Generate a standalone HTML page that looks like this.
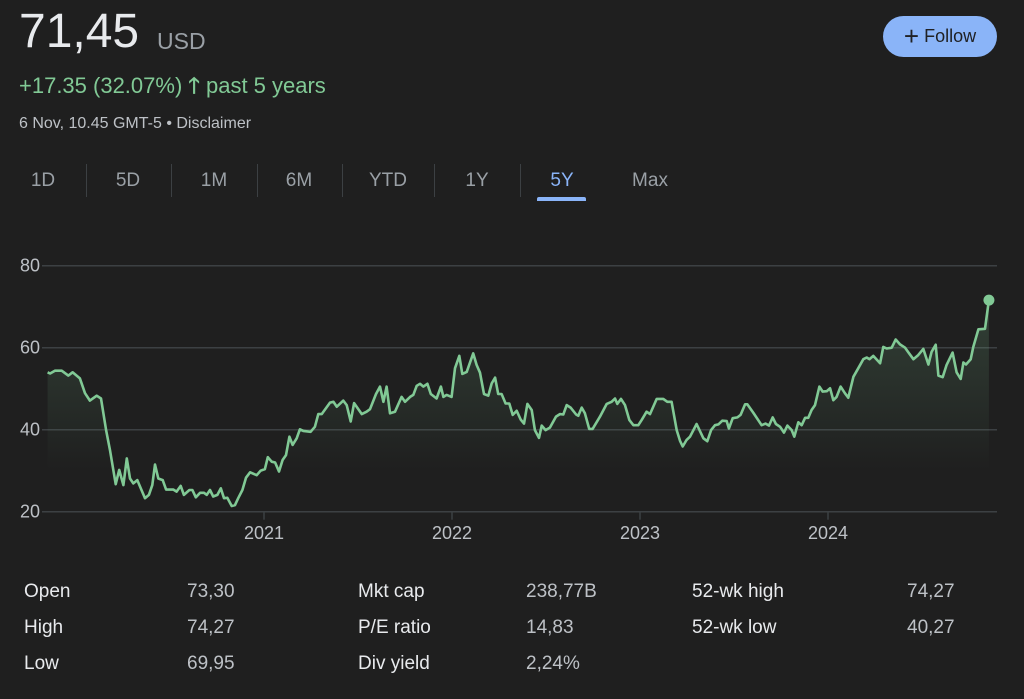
<!DOCTYPE html>
<html><head><meta charset="utf-8"><style>
body{margin:0;width:1024px;height:699px;background:#1f1f1f;font-family:"Liberation Sans",Arial,sans-serif;position:relative;overflow:hidden;color:#e8eaed}
.a{position:absolute;white-space:nowrap}
.tab{position:absolute;top:170px;font-size:19px;color:#9aa0a6;transform:translateX(-50%)}
.sep{position:absolute;top:164px;width:1px;height:33px;background:#3c4043}
.st{position:absolute;font-size:19px;color:#e8eaed}
.sv{position:absolute;font-size:19px;color:#bdc1c6}
</style></head><body>
<div class="a" style="left:19px;top:4px;font-size:48px;color:#e8eaed">71,45</div>
<div class="a" style="left:157px;top:28px;font-size:23px;color:#9aa0a6">USD</div>
<div class="a" style="left:19px;top:69px;font-size:22px;color:#81c995">+17.35 (32.07%) <span style="font-weight:bold">🡑</span> past 5 years</div>
<div class="a" style="left:19px;top:115px;font-size:16px;color:#bdc1c6">6 Nov, 10.45 GMT-5 • Disclaimer</div>
<div class="a" style="left:883px;top:16px;width:114px;height:41px;border-radius:21px;background:#8ab4f8;color:#202124;font-size:18px;line-height:41px;text-align:center"><span style="font-size:26px;vertical-align:-3px">+</span> Follow</div>

<div class="tab" style="left:43px">1D</div>
<div class="tab" style="left:128px">5D</div>
<div class="tab" style="left:214px">1M</div>
<div class="tab" style="left:299px">6M</div>
<div class="tab" style="left:388px">YTD</div>
<div class="tab" style="left:477px">1Y</div>
<div class="tab" style="left:562px;color:#8ab4f8">5Y</div>
<div class="tab" style="left:650px">Max</div>
<div class="sep" style="left:86px"></div>
<div class="sep" style="left:171px"></div>
<div class="sep" style="left:257px"></div>
<div class="sep" style="left:342px"></div>
<div class="sep" style="left:434px"></div>
<div class="sep" style="left:520px"></div>
<div class="a" style="left:537px;top:197px;width:49px;height:4px;border-radius:2px 2px 0 0;background:#8ab4f8"></div>

<svg id="chart" width="1024" height="560" style="position:absolute;left:0;top:0">
<defs><linearGradient id="g" gradientUnits="userSpaceOnUse" x1="0" y1="280" x2="0" y2="470"><stop offset="0" stop-color="#81c995" stop-opacity="0.22"/><stop offset="1" stop-color="#81c995" stop-opacity="0"/></linearGradient></defs>
<g id="grid"></g><path id="area" fill="url(#g)"/><path id="line" fill="none" stroke="#81c995" stroke-width="2.6" stroke-linejoin="round"/><g id="ticks"></g>
</svg>

<div class="st" style="left:24px;top:581px">Open</div>
<div class="sv" style="left:187px;top:581px">73,30</div>
<div class="st" style="left:24px;top:617px">High</div>
<div class="sv" style="left:187px;top:617px">74,27</div>
<div class="st" style="left:24px;top:653px">Low</div>
<div class="sv" style="left:187px;top:653px">69,95</div>
<div class="st" style="left:358px;top:581px">Mkt cap</div>
<div class="sv" style="left:526px;top:581px">238,77B</div>
<div class="st" style="left:358px;top:617px">P/E ratio</div>
<div class="sv" style="left:526px;top:617px">14,83</div>
<div class="st" style="left:358px;top:653px">Div yield</div>
<div class="sv" style="left:526px;top:653px">2,24%</div>
<div class="st" style="left:692px;top:581px">52-wk high</div>
<div class="sv" style="left:907px;top:581px">74,27</div>
<div class="st" style="left:692px;top:617px">52-wk low</div>
<div class="sv" style="left:907px;top:617px">40,27</div>

<script>
const yTicks=[20,40,60,80];
const xTickYears=[2021,2022,2023,2024];
const dates=[2019.849,2019.862,2019.888,2019.924,2019.959,2019.982,2020.021,2020.048,2020.074,2020.110,2020.133,2020.160,2020.181,2020.211,2020.230,2020.252,2020.270,2020.287,2020.305,2020.326,2020.367,2020.388,2020.406,2020.420,2020.438,2020.461,2020.479,2020.518,2020.535,2020.557,2020.574,2020.603,2020.619,2020.637,2020.660,2020.681,2020.695,2020.713,2020.730,2020.752,2020.770,2020.787,2020.805,2020.828,2020.846,2020.863,2020.885,2020.904,2020.926,2020.961,2020.982,2021.005,2021.020,2021.041,2021.059,2021.080,2021.099,2021.117,2021.135,2021.152,2021.174,2021.191,2021.209,2021.248,2021.271,2021.289,2021.307,2021.351,2021.369,2021.387,2021.422,2021.440,2021.461,2021.479,2021.520,2021.546,2021.564,2021.596,2021.617,2021.635,2021.652,2021.670,2021.697,2021.732,2021.750,2021.777,2021.794,2021.812,2021.830,2021.848,2021.869,2021.887,2021.918,2021.941,2021.954,2021.972,2021.998,2022.016,2022.039,2022.055,2022.078,2022.113,2022.131,2022.149,2022.170,2022.193,2022.211,2022.229,2022.246,2022.264,2022.285,2022.305,2022.323,2022.344,
2022.365,2022.383,2022.401,2022.424,2022.441,2022.463,2022.477,2022.498,2022.521,2022.553,2022.574,2022.592,2022.610,2022.631,2022.660,2022.672,2022.690,2022.707,2022.730,2022.748,2022.787,2022.823,2022.849,2022.867,2022.879,2022.899,2022.920,2022.943,2022.965,2022.991,2023.009,2023.035,2023.053,2023.089,2023.124,2023.145,2023.168,2023.195,2023.213,2023.227,2023.248,2023.266,2023.301,2023.337,2023.358,2023.378,2023.399,2023.417,2023.438,2023.461,2023.473,2023.493,2023.518,2023.535,2023.559,2023.571,2023.603,2023.647,2023.668,2023.686,2023.706,2023.723,2023.745,2023.766,2023.784,2023.807,2023.821,2023.842,2023.860,2023.878,2023.895,2023.913,2023.931,2023.954,2023.972,2023.993,2024.011,2024.028,2024.046,2024.067,2024.090,2024.108,2024.135,2024.161,2024.188,2024.206,2024.220,2024.241,2024.277,2024.294,2024.312,2024.339,2024.360,2024.383,2024.410,2024.427,2024.454,2024.480,2024.507,2024.534,2024.551,2024.573,2024.587,2024.610,2024.631,2024.663,2024.684,2024.706,2024.720,2024.734,2024.759,2024.773,2024.800,2024.835,2024.856];
const prices=[54.0,53.7,54.4,54.4,53.2,54.0,52.5,48.9,47.1,48.3,47.6,39.9,35.0,26.7,30.2,26.5,33.0,28.1,26.9,27.7,23.3,24.1,26.5,31.5,28.1,27.7,25.4,25.4,24.9,26.3,24.1,25.3,25.3,23.5,24.6,24.6,24.1,25.3,23.7,24.1,25.7,23.3,23.4,21.4,21.6,23.3,25.3,28.3,29.6,28.9,30.0,30.4,33.3,32.2,32.0,29.8,32.6,33.8,38.3,36.3,37.9,40.1,39.7,39.5,40.7,43.8,43.8,46.6,46.8,45.6,47.1,46.0,42.0,46.5,43.8,44.4,45.0,48.7,50.5,46.8,50.5,44.0,44.4,48.0,46.8,48.0,48.5,50.7,51.2,50.5,51.2,48.7,47.6,50.5,48.0,48.5,48.0,55.0,58.0,53.6,54.1,58.6,55.8,53.9,48.7,48.3,51.3,52.7,48.7,48.7,46.4,46.4,43.6,44.6,
42.5,41.5,46.3,44.8,39.9,38.0,41.0,39.9,40.5,43.2,43.8,43.7,46.0,45.4,43.7,43.4,45.4,44.0,40.2,40.2,43.2,46.3,46.8,47.6,46.3,47.5,46.0,42.4,41.1,41.1,42.4,44.4,43.8,47.5,47.5,46.8,46.8,39.9,37.3,35.9,37.5,38.3,41.4,37.9,37.2,39.9,41.1,41.3,42.2,42.1,40.3,42.8,43.0,43.6,46.2,46.2,44.1,41.1,41.5,41.0,43.0,41.4,40.7,39.3,41.0,39.9,38.3,41.8,41.1,42.9,42.9,44.8,46.0,50.5,49.3,49.4,50.1,47.2,48.0,50.5,48.9,47.8,52.9,55.0,57.2,57.6,57.2,58.0,56.2,60.2,59.8,60.0,62.0,60.8,60.0,58.9,57.2,58.2,59.7,55.9,59.0,60.7,53.2,52.8,55.8,58.8,54.0,52.4,56.4,55.9,57.2,60.2,64.5,64.6,71.6];

const X0=264,PXY=188,Y20=511.7,PXU=4.1;
const xs=d=>X0+(d-2021)*PXY;
const ys=v=>Y20-(v-20)*PXU;
const NS='http://www.w3.org/2000/svg';
const grid=document.getElementById('grid'),ticks=document.getElementById('ticks');
yTicks.forEach(t=>{
 const l=document.createElementNS(NS,'line');
 
 
 l.setAttribute('x1',42);l.setAttribute('x2',997);l.setAttribute('y1',ys(t));l.setAttribute('y2',ys(t));
 l.setAttribute('stroke','#3c4043');l.setAttribute('stroke-width',1.5);grid.appendChild(l);
 const tx=document.createElementNS(NS,'text');
 
 
 tx.setAttribute('x',40);tx.setAttribute('y',ys(t)+6);tx.setAttribute('text-anchor','end');
 tx.setAttribute('fill','#bdc1c6');tx.setAttribute('font-size','18');tx.textContent=t;ticks.appendChild(tx);
});
xTickYears.forEach(yv=>{
 const x=xs(yv);
 const l=document.createElementNS(NS,'line');
 
 
 l.setAttribute('x1',x);l.setAttribute('x2',x);l.setAttribute('y1',Y20);l.setAttribute('y2',Y20+8);
 l.setAttribute('stroke','#3c4043');l.setAttribute('stroke-width',1.5);ticks.appendChild(l);
 const tx=document.createElementNS(NS,'text');
 
 
 tx.setAttribute('x',x);tx.setAttribute('y',539);tx.setAttribute('text-anchor','middle');
 tx.setAttribute('fill','#bdc1c6');tx.setAttribute('font-size','18');tx.textContent=yv;ticks.appendChild(tx);
});
let d='';
dates.forEach((t,i)=>{d+=(i?'L':'M')+xs(t).toFixed(1)+' '+ys(prices[i]).toFixed(1);});
const line=document.getElementById('line');
line.setAttribute('d',d);


const base=470;
const area=document.getElementById('area');
area.setAttribute('d',d+'L'+xs(dates[dates.length-1]).toFixed(1)+' '+base+'L'+xs(dates[0]).toFixed(1)+' '+base+'Z');


const c=document.createElementNS(NS,'circle');


c.setAttribute('cx',xs(dates[dates.length-1]));c.setAttribute('cy',ys(prices[prices.length-1]));c.setAttribute('r',5.5);c.setAttribute('fill','#81c995');
document.getElementById('chart').appendChild(c);
</script>
</body></html>
